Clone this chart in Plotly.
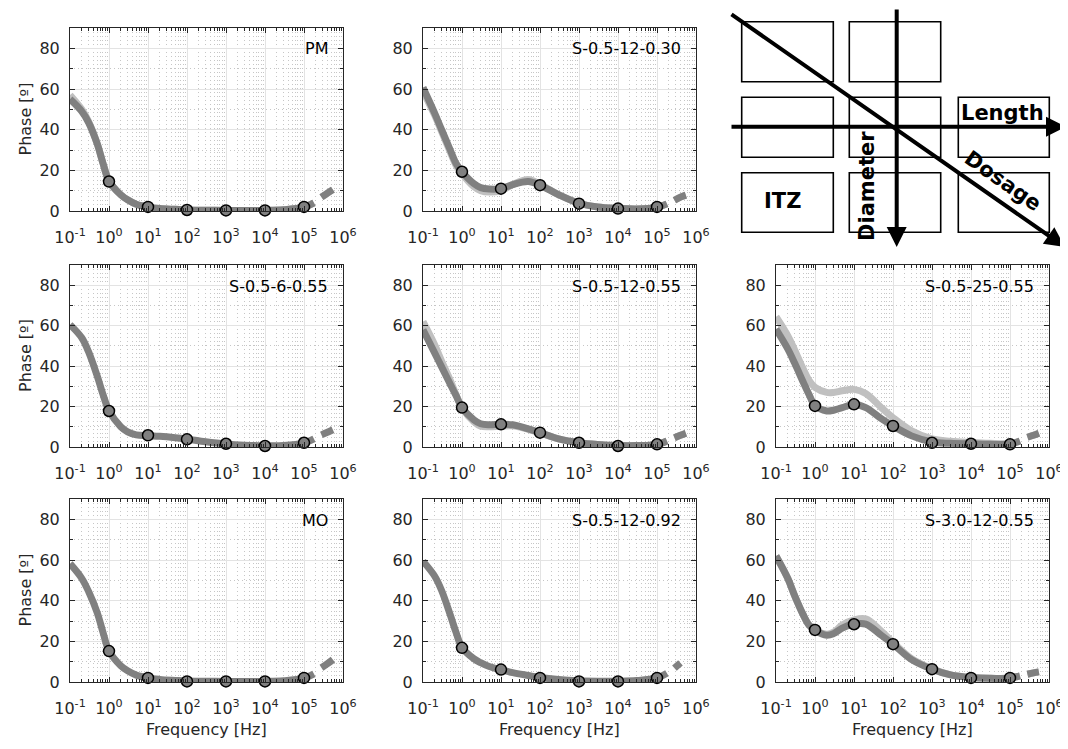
import plotly.graph_objects as go

W, H = 1068, 749
OFF = 8                      # default page margin of the html body
FIG_W, FIG_H = W - OFF, H - OFF

# ---------------- data ----------------
FREQ = [0.1, 0.2, 0.3, 0.5, 0.7, 1, 2, 3, 5, 10, 20, 50, 100, 300,
        1e3, 3e3, 1e4, 3e4, 1e5, 1.8e5, 2.3e5, 2.8e5, 4e5, 5.5e5]
MEAS_FREQ = [1, 10, 100, 1e3, 1e4, 1e5]

PANEL_NAMES = ["PM", "S-0.5-12-0.30", "S-0.5-6-0.55", "S-0.5-12-0.55",
               "S-0.5-25-0.55", "MO", "S-0.5-12-0.92", "S-3.0-12-0.55"]

# dark fitted curve
FIT_PM = [55, 49, 43.5, 33, 23.5, 14.8, 8, 5.5, 3.3, 1.9, 1.2, 0.8, 0.5, 0.4,
          0.3, 0.3, 0.3, 0.6, 1.9, 4.0, None, 6.8, 8.8, 10.5]
FIT_S05_12_030 = [60.7, 48, 40, 30, 23.5, 19.3, 13.5, 11.5, 10.8, 11, 13, 14.5, 12.7, 8,
                  3.8, 2.0, 1.3, 1.0, 1.8, 3.5, None, 5.3, 6.8, 7.8]
FIT_S05_6_055 = [60.5, 54, 47, 35, 26, 18, 10, 7.5, 6.0, 5.6, 5.3, 4.6, 3.9, 2.6,
                 1.5, 0.9, 0.6, 0.7, 2.0, 4.0, None, 6.0, 7.3, 8.5]
FIT_S05_12_055 = [58, 46.4, 39.6, 31, 25.5, 19.5, 13.5, 11.5, 11, 11.2, 11, 9, 7.1, 4,
                  2.1, 1.2, 0.7, 0.7, 1.3, 3.0, None, 4.6, 5.8, 6.8]
FIT_S05_25_055 = [58.3, 48.5, 41.5, 32, 26, 20.5, 17.8, 18.2, 19.5, 21, 19.5, 14, 10.4, 5.5,
                  2.5, 1.8, 1.5, 1.3, 1.5, 3.0, None, 4.8, 5.8, 6.8]
FIT_MO = [58.2, 51, 44.5, 34, 24.5, 15.3, 8, 5.5, 3.4, 2.0, 1.3, 0.8, 0.5, 0.4,
          0.3, 0.3, 0.3, 0.6, 1.9, 4.0, None, 7.0, 9.0, 11.0]
FIT_S05_12_092 = [59.4, 52, 45, 33, 24.5, 17, 11.5, 9.5, 7.6, 6, 4.6, 3.2, 2.2, 1.2,
                  0.6, 0.4, 0.4, 0.7, 2.0, 4.3, None, 6.8, 9.4, None]
FIT_S30_12_055 = [62, 51, 42.5, 33, 28, 25.5, 23, 23.8, 26.5, 28.5, 28.5, 23, 18.6, 11,
                  6.3, 3.5, 2.2, 1.8, 2.0, 3.0, None, 3.8, 4.5, 5.0]

# light alternative curve (only where it differs visibly)
ALT_PM = [57, 50, 44, 33, 23.5, 14.8, 8, 5.5, 3.3, 1.9, 1.2, 0.8, 0.5, 0.4,
          0.3, 0.3, 0.3, 0.6, 1.9, 4.0, None, 6.8, 8.8, 10.5]
ALT_S05_12_030 = [59, 47, 39, 29, 22.5, 18.3, 12, 10, 9.3, 10, 13, 15.5, 13.2, 8,
                  3.8, 2.0, 1.3, 1.0, 1.8, 3.5, None, 5.3, 6.8, 7.8]
ALT_S05_12_055 = [62, 50.5, 42.5, 33, 26, 19.5, 12.5, 10.3, 10, 10.3, 10.5, 8.7, 7.0, 4,
                  2.1, 1.2, 0.7, 0.7, 1.3, 3.0, None, 4.6, 5.8, 6.8]
ALT_S05_25_055 = [64.4, 55, 48, 38.5, 33, 29.5, 27, 27, 27.8, 28.5, 26.5, 19.5, 14.5, 8,
                  4.0, 2.8, 2.2, 1.8, 1.7, 3.0, None, 4.8, 5.8, 6.8]
ALT_S30_12_055 = [62, 51, 42.5, 33, 28, 25.5, 23.5, 24.5, 28, 30.5, 31, 25, 19.5, 11.5,
                  6.5, 3.5, 2.2, 1.8, 2.0, 3.0, None, 3.8, 4.5, 5.0]

# measured points
MEAS_PM = [14.5, 2.0, 0.5, 0.3, 0.3, 2.0]
MEAS_S05_12_030 = [19.3, 11.0, 12.7, 3.6, 1.2, 2.0]
MEAS_S05_6_055 = [17.8, 5.8, 3.8, 1.6, 0.5, 2.1]
MEAS_S05_12_055 = [19.5, 11.2, 7.1, 2.1, 0.5, 1.3]
MEAS_S05_25_055 = [20.3, 21.1, 10.4, 2.1, 1.6, 1.3]
MEAS_MO = [15.2, 2.0, 0.3, 0.3, 0.3, 2.0]
MEAS_S05_12_092 = [16.8, 6.1, 2.0, 0.3, 0.3, 2.0]
MEAS_S30_12_055 = [25.6, 28.4, 18.6, 6.3, 2.0, 2.0]

XTICK_VALS = [0.1, 1, 10, 100, 1e3, 1e4, 1e5, 1e6]
XTICK_TEXT = ["10<sup>-1</sup>", "10<sup>0</sup>", "10<sup>1</sup>", "10<sup>2</sup>",
              "10<sup>3</sup>", "10<sup>4</sup>", "10<sup>5</sup>", "10<sup>6</sup>"]
XMINOR_VALS = [m * 10.0 ** e for e in range(-1, 6) for m in range(2, 10)]
YTICK_VALS = [0, 20, 40, 60, 80]
YMINOR_VALS = [10, 30, 50, 70, 90]

PANELS = [
    (PANEL_NAMES[0], (0, 0), FIT_PM, ALT_PM, MEAS_PM),
    (PANEL_NAMES[1], (0, 1), FIT_S05_12_030, ALT_S05_12_030, MEAS_S05_12_030),
    (PANEL_NAMES[2], (1, 0), FIT_S05_6_055, None, MEAS_S05_6_055),
    (PANEL_NAMES[3], (1, 1), FIT_S05_12_055, ALT_S05_12_055, MEAS_S05_12_055),
    (PANEL_NAMES[4], (1, 2), FIT_S05_25_055, ALT_S05_25_055, MEAS_S05_25_055),
    (PANEL_NAMES[5], (2, 0), FIT_MO, None, MEAS_MO),
    (PANEL_NAMES[6], (2, 1), FIT_S05_12_092, None, MEAS_S05_12_092),
    (PANEL_NAMES[7], (2, 2), FIT_S30_12_055, ALT_S30_12_055, MEAS_S30_12_055),
]

# ---------------- layout geometry (window pixels) ----------------
COL_X = [(70, 343), (423, 696), (776, 1049)]
ROW_Y = [(28, 211), (265, 447), (499, 682)]

FONT = "DejaVu Sans"
TXT = "#262626"
DARK = "#808080"
LIGHT = "#c0c0c0"
GRID = "#e3e3e3"
MINOR_GRID = "#c6c6c6"


def px(x):
    return (x - OFF) / FIG_W


def py(y):
    return 1 - (y - OFF) / FIG_H


fig = go.Figure()
layout = dict(width=FIG_W, height=FIG_H, margin=dict(l=0, r=0, t=0, b=0),
              paper_bgcolor="white", plot_bgcolor="white", showlegend=False,
              font=dict(family=FONT, size=16, color=TXT))
annotations = []
shapes = []

for i, (name, (r, c), fit, alt, meas) in enumerate(PANELS):
    k = i + 1
    sx = "" if k == 1 else str(k)
    xref, yref = "x" + sx, "y" + sx
    x0, x1 = COL_X[c]
    y0, y1 = ROW_Y[r]
    axis_common = dict(showline=True, linecolor=TXT, linewidth=1, mirror="ticks",
                       ticks="inside", ticklen=5, tickwidth=1, tickcolor=TXT,
                       showgrid=True, gridcolor=GRID, gridwidth=1,
                       zeroline=False, automargin=False,
                       tickfont=dict(family=FONT, size=16, color=TXT))
    layout["xaxis" + sx] = dict(
        axis_common, domain=[px(x0), px(x1)], anchor=yref, type="log",
        range=[-1, 6], tickmode="array", tickvals=XTICK_VALS, ticktext=XTICK_TEXT,
        ticklabelstandoff=12,
        minor=dict(tickmode="array", tickvals=XMINOR_VALS, ticks="inside", ticklen=3,
                   tickcolor=TXT, showgrid=True, gridcolor=MINOR_GRID,
                   griddash="1px,3px", gridwidth=1))
    layout["yaxis" + sx] = dict(
        axis_common, domain=[py(y1), py(y0)], anchor=xref, range=[0, 90],
        tickmode="array", tickvals=YTICK_VALS, ticklabelstandoff=6,
        minor=dict(tickmode="array", tickvals=YMINOR_VALS, ticks="inside", ticklen=3,
                   tickcolor=TXT, showgrid=True, gridcolor=MINOR_GRID,
                   griddash="1px,3px", gridwidth=1))

    if alt is not None:
        fig.add_trace(go.Scatter(x=FREQ, y=alt, mode="lines", xaxis=xref, yaxis=yref,
                                 line=dict(color=LIGHT, width=7, shape="spline", smoothing=1),
                                 connectgaps=False, hoverinfo="skip"))
    fig.add_trace(go.Scatter(x=FREQ, y=fit, mode="lines", xaxis=xref, yaxis=yref,
                             line=dict(color=DARK, width=7, shape="spline", smoothing=1),
                             connectgaps=False, hoverinfo="skip"))
    fig.add_trace(go.Scatter(x=MEAS_FREQ, y=meas, mode="markers", xaxis=xref, yaxis=yref,
                             marker=dict(symbol="circle", size=11, color=DARK,
                                         line=dict(color="black", width=1.5)),
                             cliponaxis=False))

    annotations.append(dict(x=px(x1 - 13), y=py(y0 + 21), xref="paper", yref="paper",
                            text=name, showarrow=False, xanchor="right", yanchor="middle",
                            font=dict(family=FONT, size=16, color="black")))
    if c == 0:
        annotations.append(dict(x=px(25), y=py((y0 + y1) / 2), xref="paper", yref="paper",
                                text="Phase [º]", showarrow=False, textangle=-90,
                                xanchor="center", yanchor="middle",
                                font=dict(family=FONT, size=16, color=TXT)))
    if r == 2:
        annotations.append(dict(x=px((x0 + x1) / 2), y=py(729), xref="paper", yref="paper",
                                text="Frequency [Hz]", showarrow=False,
                                xanchor="center", yanchor="middle",
                                font=dict(family=FONT, size=16, color=TXT)))

# ---------------- schematic (top-right) ----------------
BOXES = [(741.7, 21.7, 833.3, 81.7), (849.3, 21.7, 940.7, 81.7),
         (741.7, 97.3, 833.3, 157.3), (849.3, 97.3, 940.7, 157.3), (958.3, 97.3, 1049.3, 157.3),
         (741.7, 172.7, 833.3, 232.3), (849.3, 172.7, 940.7, 232.3), (958.3, 172.7, 1049.3, 232.3)]
for (bx0, by0, bx1, by1) in BOXES:
    shapes.append(dict(type="rect", xref="paper", yref="paper",
                       x0=px(bx0), x1=px(bx1), y0=py(by1), y1=py(by0),
                       line=dict(color="black", width=1.6), fillcolor="rgba(0,0,0,0)"))

ARROWS = [((896.7, 6.7), (896.7, 247)),
          ((730, 126.7), (1066, 126.7)),
          ((730, 13.3), (1065, 247))]
for (tx, ty), (hx, hy) in ARROWS:
    annotations.append(dict(x=px(hx), y=py(hy), xref="paper", yref="paper",
                            ax=tx - hx, ay=ty - hy, axref="pixel", ayref="pixel",
                            text="", showarrow=True, arrowhead=2, arrowsize=1,
                            arrowwidth=4, arrowcolor="black", standoff=0))

DIAG_TEXT = [("Length", 1002, 113, 0), ("ITZ", 782, 201, 0),
             ("Diameter", 867, 186, -90), ("Dosage", 1003, 181, 35)]
for t, tx, ty, ang in DIAG_TEXT:
    annotations.append(dict(x=px(tx), y=py(ty), xref="paper", yref="paper", text=t,
                            showarrow=False, textangle=ang, xanchor="center", yanchor="middle",
                            font=dict(family=FONT, size=21, color="black", weight="bold")))

layout["annotations"] = annotations
layout["shapes"] = shapes
fig.update_layout(**layout)
fig.write_html("out.html")
